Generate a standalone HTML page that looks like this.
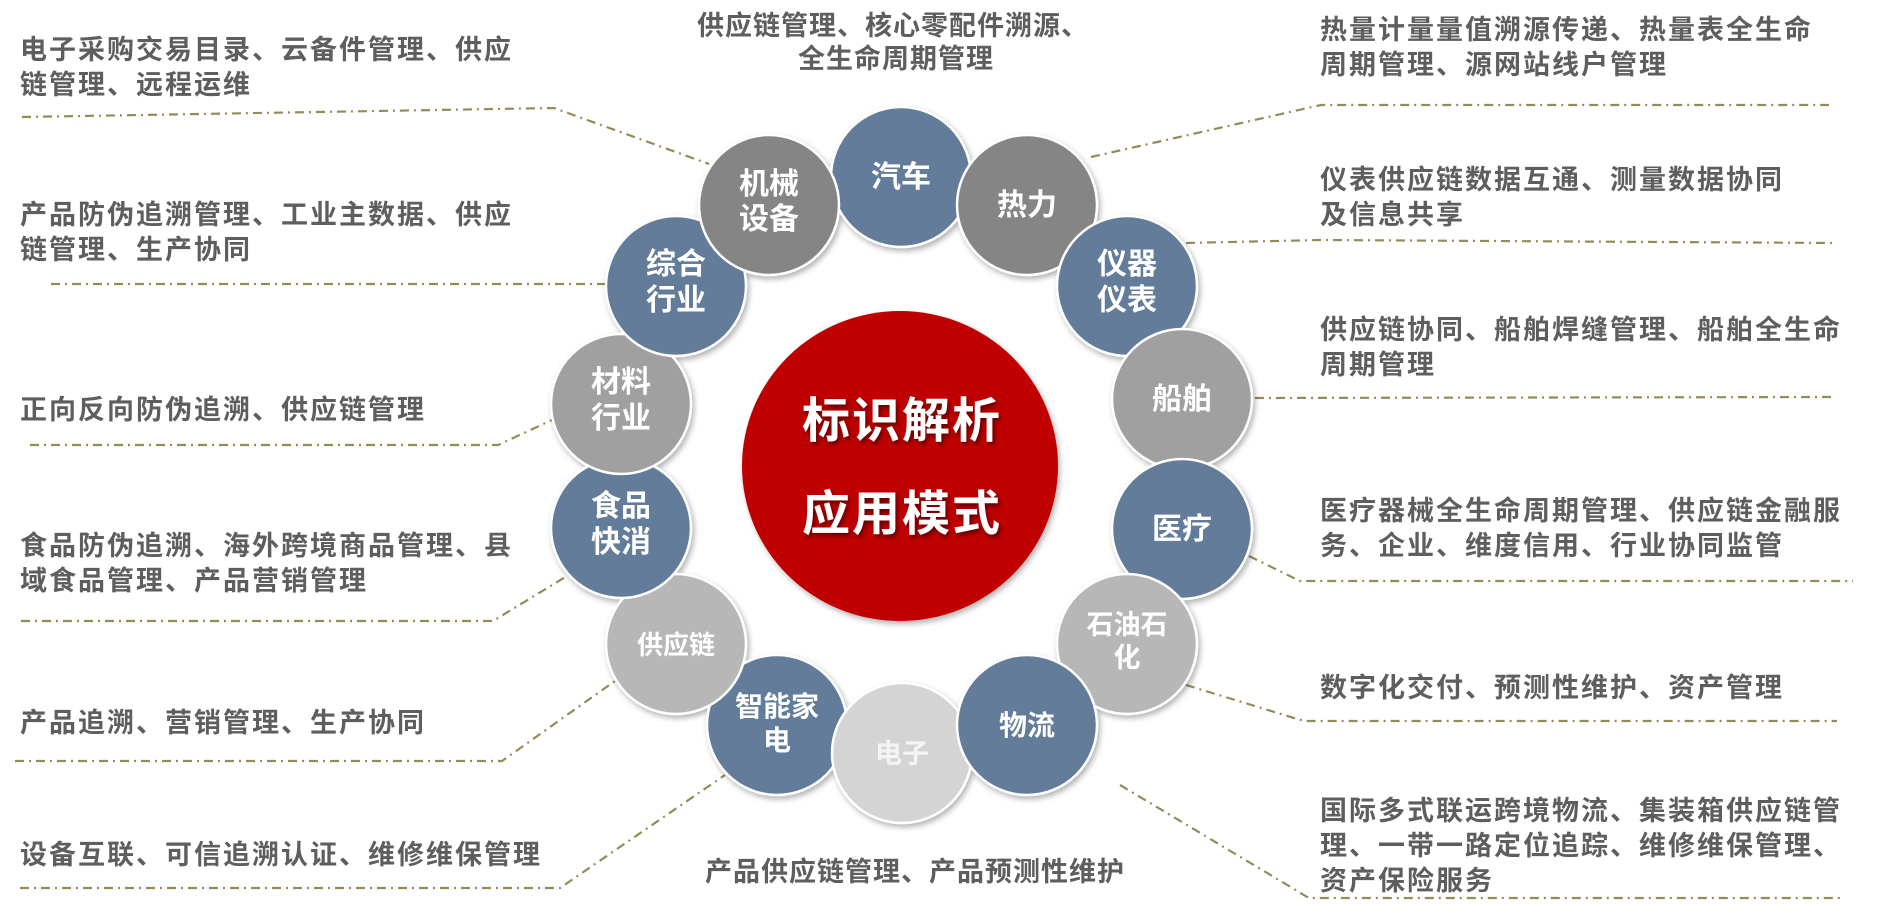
<!DOCTYPE html>
<html><head><meta charset="utf-8"><style>
html,body{margin:0;padding:0;background:#fff;}
svg{display:block;}
.t{font-family:"Liberation Sans","Noto Sans CJK SC",sans-serif;font-weight:bold;fill:#5e5e5e;font-size:27px;letter-spacing:2px;}
.c{font-family:"Liberation Sans","Noto Sans CJK SC",sans-serif;font-weight:bold;fill:#fff;font-size:30px;text-anchor:middle;}
.ln{fill:none;stroke:#958b58;stroke-width:2.2;stroke-dasharray:9 5 2 5;}
</style></head><body>
<svg width="1884" height="918" viewBox="0 0 1884 918" xmlns="http://www.w3.org/2000/svg">
<defs>
<filter id="sh" x="-20%" y="-20%" width="140%" height="140%"><feDropShadow dx="2" dy="3" stdDeviation="3" flood-opacity="0.3"/></filter>
<filter id="ts" x="-10%" y="-10%" width="120%" height="130%"><feDropShadow dx="2" dy="3" stdDeviation="2" flood-opacity="0.5"/></filter>
</defs>
<polyline class="ln" points="22,117 554,108 709,164"/>
<polyline class="ln" points="51,284 605,284"/>
<polyline class="ln" points="30,445 498,445 552,420"/>
<polyline class="ln" points="21,621 493,621 567,576"/>
<polyline class="ln" points="15,761 502,761 615,681"/>
<polyline class="ln" points="20,888 560,888 725,775"/>
<polyline class="ln" points="1091,157 1321,105 1829,105"/>
<polyline class="ln" points="1186,243 1321,240 1834,243"/>
<polyline class="ln" points="1255,398 1831,397"/>
<polyline class="ln" points="1249,556 1300,581 1853,581"/>
<polyline class="ln" points="1186,685 1304,721 1837,721"/>
<polyline class="ln" points="1120,785 1309,898 1843,898"/>

<text class="t" x="20" y="59">电子采购交易目录、云备件管理、供应</text>
<text class="t" x="20" y="94">链管理、远程运维</text>
<text class="t" x="20" y="224">产品防伪追溯管理、工业主数据、供应</text>
<text class="t" x="20" y="259">链管理、生产协同</text>
<text class="t" x="20" y="419">正向反向防伪追溯、供应链管理</text>
<text class="t" x="20" y="555">食品防伪追溯、海外跨境商品管理、县</text>
<text class="t" x="20" y="590">域食品管理、产品营销管理</text>
<text class="t" x="20" y="732">产品追溯、营销管理、生产协同</text>
<text class="t" x="20" y="864">设备互联、可信追溯认证、维修维保管理</text>
<text class="t" x="1320" y="39">热量计量量值溯源传递、热量表全生命</text>
<text class="t" x="1320" y="74">周期管理、源网站线户管理</text>
<text class="t" x="1320" y="189">仪表供应链数据互通、测量数据协同</text>
<text class="t" x="1320" y="224">及信息共享</text>
<text class="t" x="1320" y="339">供应链协同、船舶焊缝管理、船舶全生命</text>
<text class="t" x="1320" y="374">周期管理</text>
<text class="t" x="1320" y="520">医疗器械全生命周期管理、供应链金融服</text>
<text class="t" x="1320" y="555">务、企业、维度信用、行业协同监管</text>
<text class="t" x="1320" y="697">数字化交付、预测性维护、资产管理</text>
<text class="t" x="1320" y="820">国际多式联运跨境物流、集装箱供应链管</text>
<text class="t" x="1320" y="855">理、一带一路定位追踪、维修维保管理、</text>
<text class="t" x="1320" y="890">资产保险服务</text>
<text class="t" x="893" y="35" text-anchor="middle" style="letter-spacing:1px">供应链管理、核心零配件溯源、</text>
<text class="t" x="896" y="68" text-anchor="middle" style="letter-spacing:1px">全生命周期管理</text>
<text class="t" x="915" y="881" text-anchor="middle" style="letter-spacing:1px">产品供应链管理、产品预测性维护</text>

<ellipse cx="900" cy="466" rx="158" ry="155" fill="#c00000" filter="url(#sh)"/>
<g filter="url(#ts)">
<text x="902" y="437" text-anchor="middle" style="font-family:'Liberation Sans','Noto Sans CJK SC',sans-serif;font-weight:bold;font-size:48px;fill:#fff;letter-spacing:2px">标识解析</text>
<text x="902" y="530" text-anchor="middle" style="font-family:'Liberation Sans','Noto Sans CJK SC',sans-serif;font-weight:bold;font-size:48px;fill:#fff;letter-spacing:2px">应用模式</text>
</g>

<g stroke="#fff" stroke-width="2.5" filter="url(#sh)">
<circle cx="901" cy="177" r="70" fill="#627b9a"/>
<circle cx="1027" cy="205" r="70" fill="#858585"/>
<circle cx="1127" cy="286" r="70" fill="#627b9a"/>
<circle cx="1182" cy="399" r="70" fill="#a0a0a0"/>
<circle cx="1182" cy="529" r="70" fill="#627b9a"/>
<circle cx="1127" cy="644" r="70" fill="#b7b7b7"/>
<circle cx="777" cy="725" r="70" fill="#627b9a"/>
<circle cx="902" cy="753" r="70" fill="#d4d4d4"/>
<circle cx="1027" cy="725" r="70" fill="#627b9a"/>
<circle cx="676" cy="644" r="70" fill="#b7b7b7"/>
<circle cx="621" cy="528" r="70" fill="#627b9a"/>
<circle cx="621" cy="404" r="70" fill="#a0a0a0"/>
<circle cx="676" cy="286" r="70" fill="#627b9a"/>
<circle cx="769" cy="205" r="70" fill="#858585"/>
</g>
<text class="c" x="901" y="187">汽车</text>
<text class="c" x="1027" y="215">热力</text>
<text class="c" x="1127" y="274">仪器</text>
<text class="c" x="1127" y="310">仪表</text>
<text class="c" x="1182" y="409">船舶</text>
<text class="c" x="1182" y="539">医疗</text>
<text class="c" x="1127" y="634" style="font-size:27px">石油石</text>
<text class="c" x="1127" y="667" style="font-size:27px">化</text>
<text class="c" x="1027" y="735" style="font-size:28px">物流</text>
<text class="c" x="902" y="763" style="font-size:27px;fill:#f4f4f4">电子</text>
<text class="c" x="777" y="716" style="font-size:28px">智能家</text>
<text class="c" x="777" y="750" style="font-size:28px">电</text>
<text class="c" x="676" y="654" style="font-size:26px">供应链</text>
<text class="c" x="621" y="516">食品</text>
<text class="c" x="621" y="552">快消</text>
<text class="c" x="621" y="392">材料</text>
<text class="c" x="621" y="428">行业</text>
<text class="c" x="676" y="274">综合</text>
<text class="c" x="676" y="310">行业</text>
<text class="c" x="769" y="194">机械</text>
<text class="c" x="769" y="229">设备</text>
</svg>
</body></html>
